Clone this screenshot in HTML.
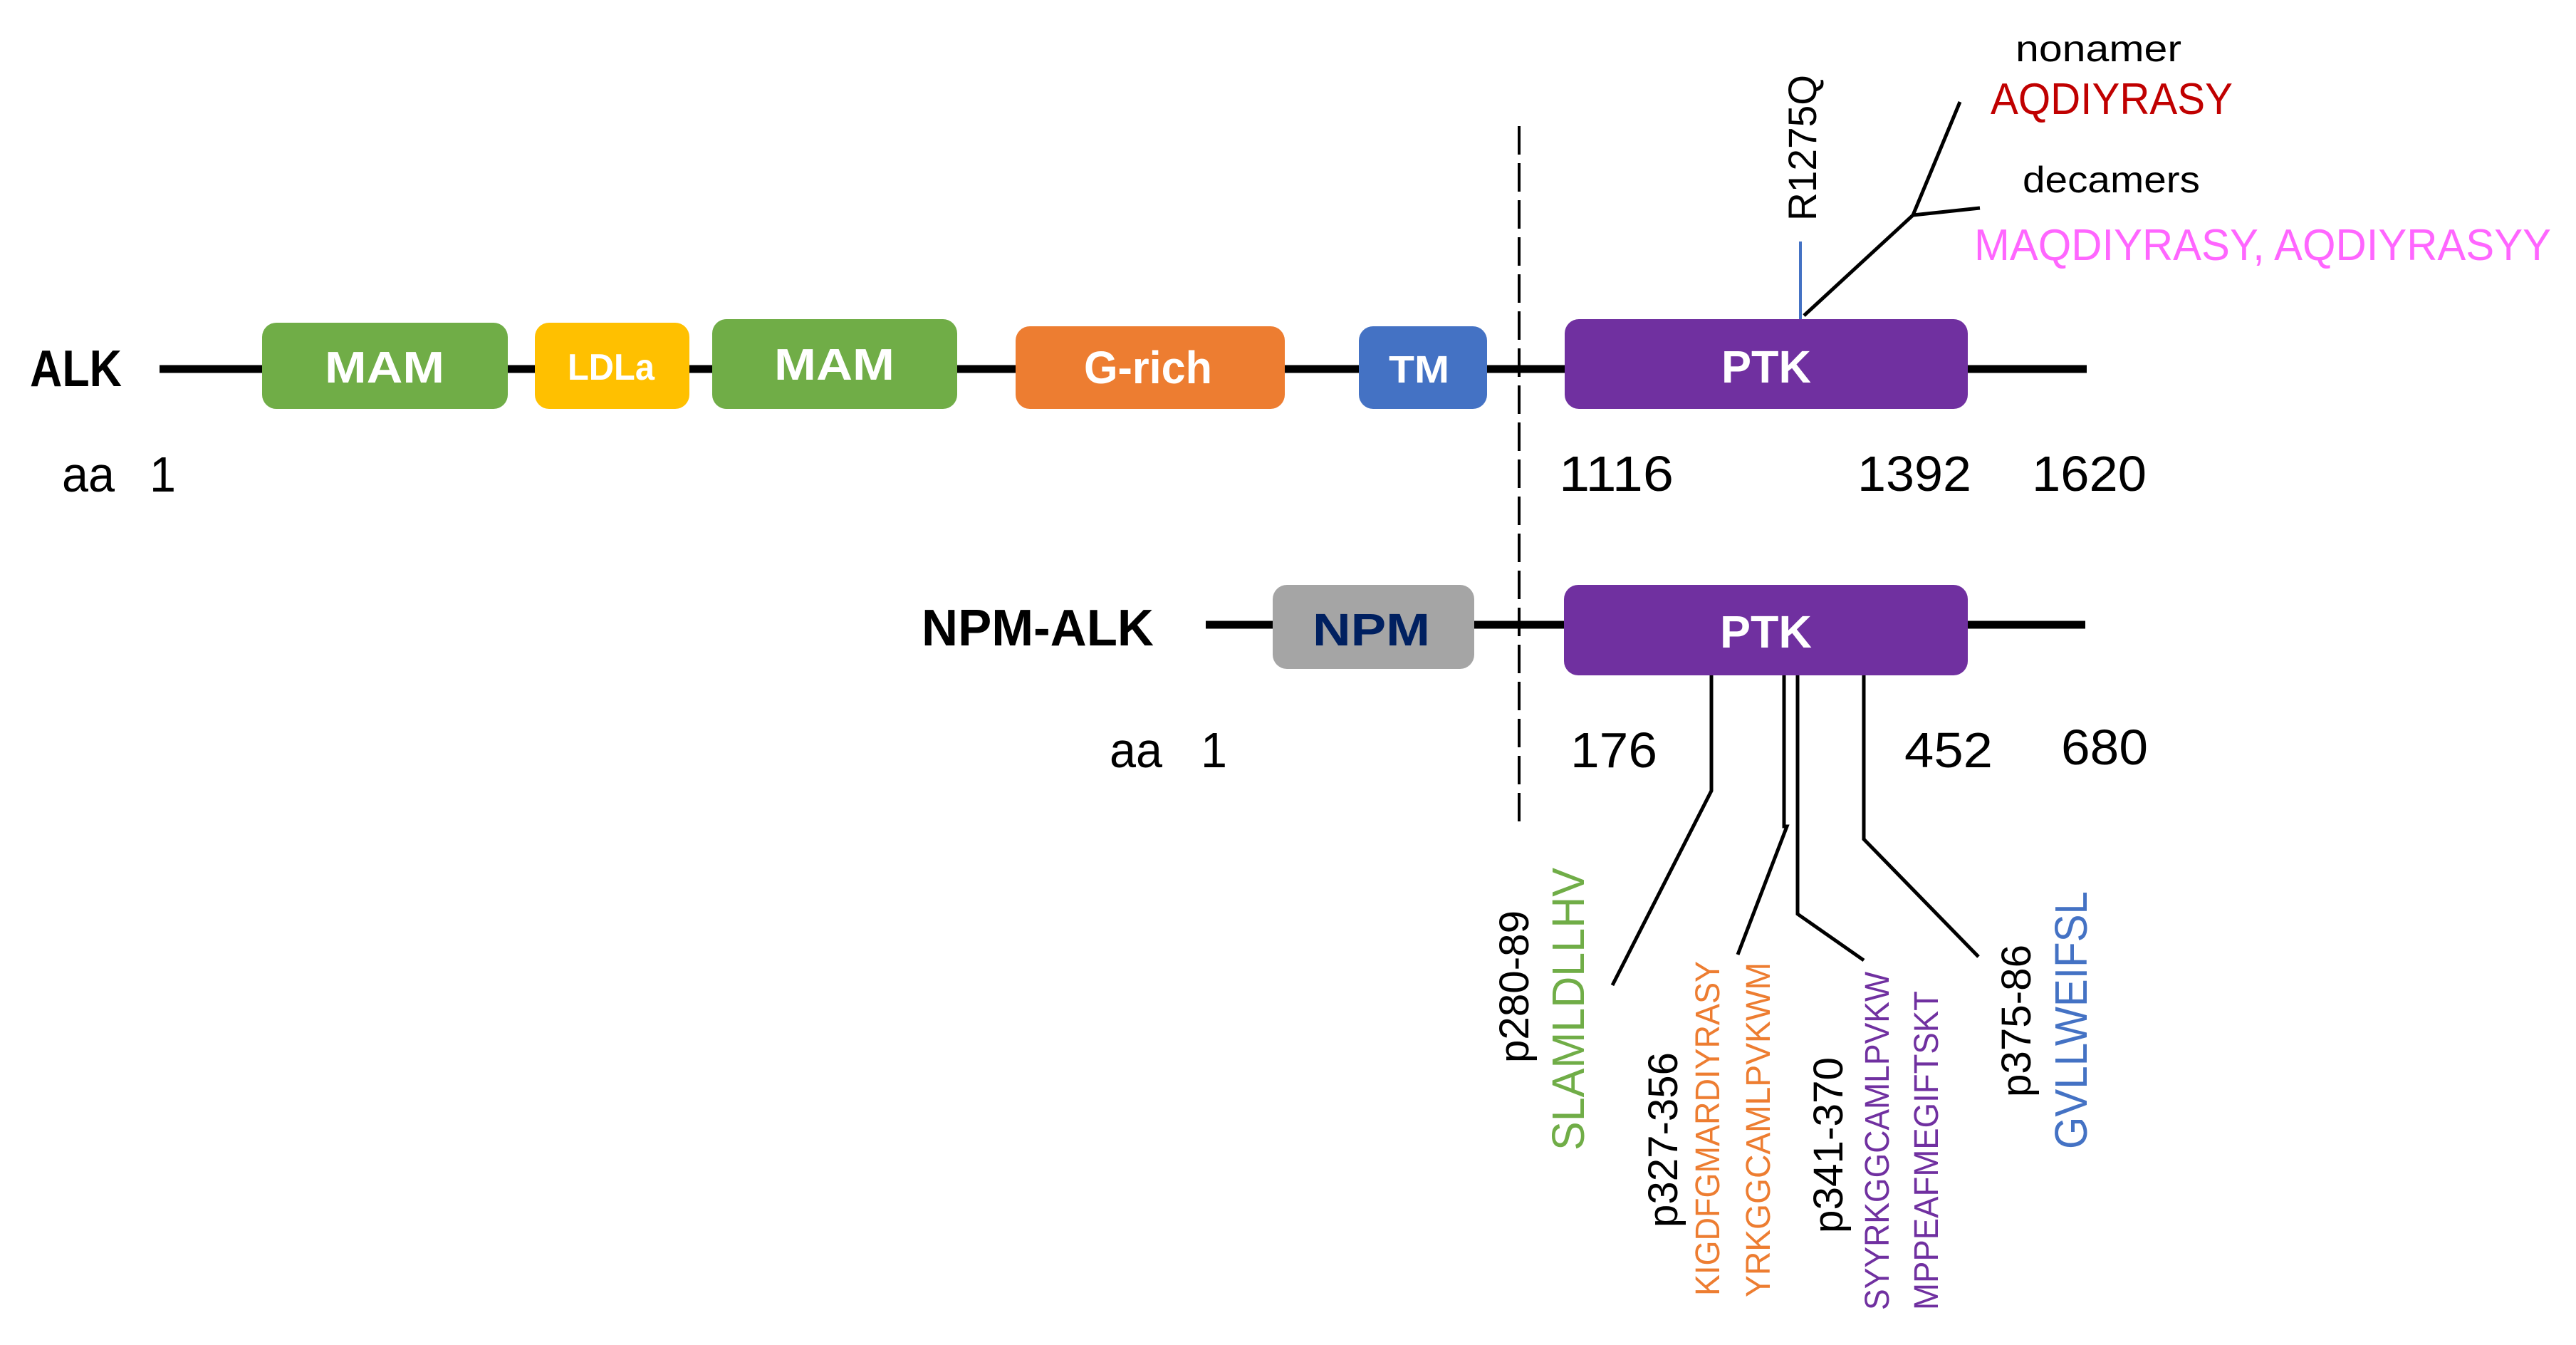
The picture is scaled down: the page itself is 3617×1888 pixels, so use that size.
<!DOCTYPE html>
<html><head><meta charset="utf-8"><style>
html,body{margin:0;padding:0;background:#fff;}
svg{display:block;}
text{font-family:"Liberation Sans",sans-serif;}
</style></head><body>
<svg width="3617" height="1888" viewBox="0 0 3617 1888" xmlns="http://www.w3.org/2000/svg">
<rect width="3617" height="1888" fill="#fff"/>
<!-- ALK main line -->
<line x1="224" y1="518" x2="2930" y2="518" stroke="#000" stroke-width="11"/>
<!-- NPM-ALK line -->
<line x1="1693" y1="877" x2="2928" y2="877" stroke="#000" stroke-width="11"/>
<!-- dashed -->
<line x1="2133" y1="177" x2="2133" y2="1163" stroke="#000" stroke-width="4" stroke-dasharray="40,12"/>

<!-- ALK domains -->
<rect x="368" y="453" width="345" height="121" rx="20" fill="#70AD47"/>
<rect x="751" y="453" width="217" height="121" rx="20" fill="#FFC000"/>
<rect x="1000" y="448" width="344" height="126" rx="20" fill="#70AD47"/>
<rect x="1426" y="458" width="378" height="116" rx="20" fill="#ED7D31"/>
<rect x="1908" y="458" width="180" height="116" rx="20" fill="#4472C4"/>
<rect x="2197" y="448" width="566" height="126" rx="20" fill="#7030A0"/>

<g font-weight="bold" fill="#fff">
<text x="456" y="537" font-size="62" textLength="168" lengthAdjust="spacingAndGlyphs">MAM</text>
<text x="797" y="533" font-size="52" textLength="122" lengthAdjust="spacingAndGlyphs">LDLa</text>
<text x="1087" y="533" font-size="62" textLength="169" lengthAdjust="spacingAndGlyphs">MAM</text>
<text x="1522" y="538" font-size="64" textLength="180" lengthAdjust="spacingAndGlyphs">G-rich</text>
<text x="1950" y="537" font-size="54" textLength="85" lengthAdjust="spacingAndGlyphs">TM</text>
<text x="2417" y="537" font-size="64" textLength="126" lengthAdjust="spacingAndGlyphs">PTK</text>
</g>

<text x="42" y="542" font-size="72" font-weight="bold" textLength="129" lengthAdjust="spacingAndGlyphs">ALK</text>
<text x="87" y="690" font-size="70" textLength="74" lengthAdjust="spacingAndGlyphs">aa</text>
<text x="210" y="690" font-size="70" textLength="37" lengthAdjust="spacingAndGlyphs">1</text>
<text x="2189" y="689" font-size="70" textLength="161" lengthAdjust="spacingAndGlyphs">1116</text>
<text x="2608" y="689" font-size="70" textLength="160" lengthAdjust="spacingAndGlyphs">1392</text>
<text x="2853" y="689" font-size="70" textLength="161" lengthAdjust="spacingAndGlyphs">1620</text>

<!-- R1275Q and epitopes top -->
<line x1="2528" y1="339" x2="2528" y2="448" stroke="#4472C4" stroke-width="4"/>
<polyline points="2533,443 2686,302 2752,143" fill="none" stroke="#000" stroke-width="5"/>
<line x1="2686" y1="302" x2="2780" y2="292" stroke="#000" stroke-width="5"/>
<text transform="translate(2550,310) rotate(-90)" font-family="DejaVu Sans, sans-serif" font-size="56" textLength="205" lengthAdjust="spacingAndGlyphs">R1275Q</text>
<text x="2830" y="86" font-size="52" textLength="233" lengthAdjust="spacingAndGlyphs">nonamer</text>
<text x="2795" y="160" font-size="62" fill="#C00000" textLength="340" lengthAdjust="spacingAndGlyphs">AQDIYRASY</text>
<text x="2840" y="270" font-size="52" textLength="249" lengthAdjust="spacingAndGlyphs">decamers</text>
<text x="2772" y="365" font-size="62" fill="#FF66FF" textLength="810" lengthAdjust="spacingAndGlyphs">MAQDIYRASY, AQDIYRASYY</text>

<!-- NPM-ALK -->
<rect x="1787" y="821" width="283" height="118" rx="20" fill="#A5A5A5"/>
<rect x="2196" y="821" width="567" height="127" rx="20" fill="#7030A0"/>
<text x="1294" y="906" font-size="72" font-weight="bold" textLength="326" lengthAdjust="spacingAndGlyphs">NPM-ALK</text>
<text x="1843" y="906" font-size="64" font-weight="bold" fill="#002060" textLength="165" lengthAdjust="spacingAndGlyphs">NPM</text>
<text x="2415" y="909" font-size="64" font-weight="bold" fill="#fff" textLength="129" lengthAdjust="spacingAndGlyphs">PTK</text>
<text x="1558" y="1077" font-size="70" textLength="74" lengthAdjust="spacingAndGlyphs">aa</text>
<text x="1686" y="1077" font-size="70" textLength="37" lengthAdjust="spacingAndGlyphs">1</text>
<text x="2205" y="1077" font-size="70" textLength="122" lengthAdjust="spacingAndGlyphs">176</text>
<text x="2674" y="1077" font-size="70" textLength="124" lengthAdjust="spacingAndGlyphs">452</text>
<text x="2894" y="1073" font-size="70" textLength="122" lengthAdjust="spacingAndGlyphs">680</text>

<!-- connectors down -->
<g fill="none" stroke="#000" stroke-width="5">
<polyline points="2403,948 2403,1110 2264,1383"/>
<polyline points="2505,948 2505,1160 2509,1160 2440,1340"/>
<polyline points="2524,948 2524,1283 2617,1348"/>
<polyline points="2617,948 2617,1178 2778,1343"/>
</g>

<!-- rotated labels -->
<text transform="translate(2146,1492) rotate(-90)" font-size="58" textLength="214" lengthAdjust="spacingAndGlyphs">p280-89</text>
<text transform="translate(2224,1615) rotate(-90)" font-size="64" fill="#70AD47" textLength="397" lengthAdjust="spacingAndGlyphs">SLAMLDLLHV</text>
<text transform="translate(2355,1723) rotate(-90)" font-size="58" textLength="246" lengthAdjust="spacingAndGlyphs">p327-356</text>
<text transform="translate(2414,1819) rotate(-90)" font-size="48" fill="#ED7D31" textLength="470" lengthAdjust="spacingAndGlyphs">KIGDFGMARDIYRASY</text>
<text transform="translate(2485,1821) rotate(-90)" font-size="48" fill="#ED7D31" textLength="470" lengthAdjust="spacingAndGlyphs">YRKGGCAMLPVKWM</text>
<text transform="translate(2587,1731) rotate(-90)" font-size="58" textLength="247" lengthAdjust="spacingAndGlyphs">p341-370</text>
<text transform="translate(2652,1839) rotate(-90)" font-size="48" fill="#7030A0" textLength="475" lengthAdjust="spacingAndGlyphs">SYYRKGGCAMLPVKW</text>
<text transform="translate(2721,1839) rotate(-90)" font-size="48" fill="#7030A0" textLength="448" lengthAdjust="spacingAndGlyphs">MPPEAFMEGIFTSKT</text>
<text transform="translate(2851,1540) rotate(-90)" font-size="58" textLength="214" lengthAdjust="spacingAndGlyphs">p375-86</text>
<text transform="translate(2930,1613) rotate(-90)" font-size="64" fill="#4472C4" textLength="362" lengthAdjust="spacingAndGlyphs">GVLLWEIFSL</text>
</svg>
</body></html>
